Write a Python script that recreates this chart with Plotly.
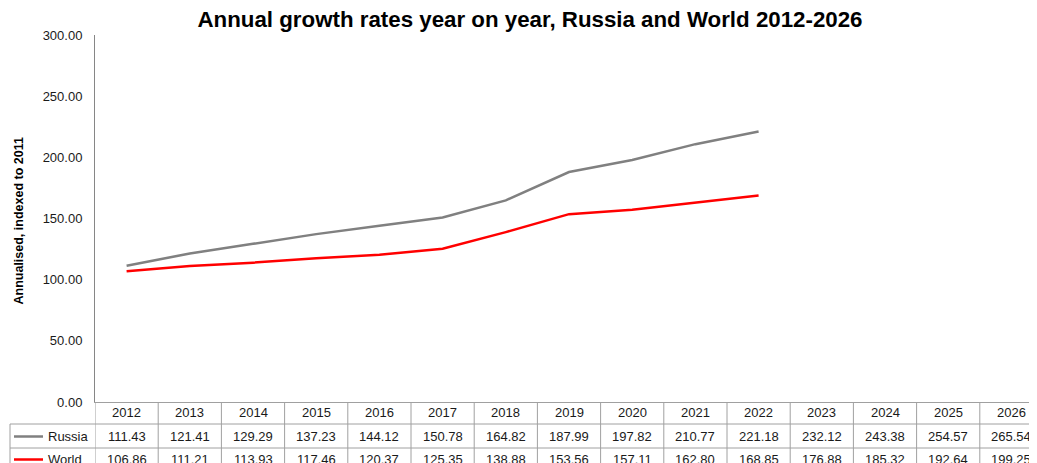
import plotly.graph_objects as go

years = [2012, 2013, 2014, 2015, 2016, 2017, 2018, 2019, 2020, 2021, 2022, 2023, 2024, 2025, 2026]
russia = [111.43, 121.41, 129.29, 137.23, 144.12, 150.78, 164.82, 187.99, 197.82, 210.77, 221.18, 232.12, 243.38, 254.57, 265.54]
world = [106.86, 111.21, 113.93, 117.46, 120.37, 125.35, 138.88, 153.56, 157.11, 162.80, 168.85, 176.88, 185.32, 192.64, 199.25]
last_plotted_year = 2022
series_names = ["Russia", "World"]
y_ticks = [0, 50, 100, 150, 200, 250, 300]
title_text = "Annual growth rates year on year, Russia and World 2012-2026"
y_title = "Annualised, indexed to 2011"

# page body has an 8px margin; work in reference pixels and shift
OFF = 8
W, H = 1037, 463
L_REF, T_REF, B_REF = 95, 35, 402
L, T, B = L_REF - OFF, T_REF - OFF, B_REF - OFF
R_EDGE = W
PW, PH = R_EDGE - L, B - T
COL_W = 63.2
FONT = "Arial, Liberation Sans, sans-serif"
GRID = "#a0a0a0"
COLORS = {"Russia": "#808080", "World": "#ff0000"}


def px(x_ref):
    return (x_ref - OFF - L) / PW


def py(y_ref):
    return (B - (y_ref - OFF)) / PH


n_plot = years.index(last_plotted_year) + 1
fig = go.Figure()
for name, vals in zip(series_names, [russia, world]):
    fig.add_trace(go.Scatter(x=years[:n_plot], y=vals[:n_plot], mode="lines", name=name,
                             line=dict(color=COLORS[name], width=2.5), showlegend=False))

x0 = years[0] - 0.5
x_range = [x0, x0 + PW / COL_W]

shapes = []
# table vertical borders
for k in range(len(years) + 1):
    shapes.append(dict(type="line", xref="x", yref="paper", x0=x0 + k, x1=x0 + k,
                       y0=0, y1=py(490), line=dict(color=GRID, width=1)))
# horizontal borders
for yy in [424, 448]:
    shapes.append(dict(type="line", xref="paper", yref="paper", x0=px(10), x1=1.0,
                       y0=py(yy), y1=py(yy), line=dict(color=GRID, width=1)))
shapes.append(dict(type="line", xref="paper", yref="paper", x0=px(10), x1=px(10),
                   y0=py(424), y1=py(490), line=dict(color=GRID, width=1)))
# legend keys
row_y = {"Russia": 436.5, "World": 459.5}
for name in series_names:
    shapes.append(dict(type="line", xref="paper", yref="paper", x0=px(14), x1=px(43),
                       y0=py(row_y[name]), y1=py(row_y[name]),
                       line=dict(color=COLORS[name], width=2.5)))

annotations = []
for yr in years:
    annotations.append(dict(x=yr, y=py(413), xref="x", yref="paper", text=str(yr),
                            showarrow=False, font=dict(family=FONT, size=13, color="#1a1a1a"),
                            xanchor="center", yanchor="middle"))
for name, vals in zip(series_names, [russia, world]):
    for yr, v in zip(years, vals):
        annotations.append(dict(x=yr, y=py(row_y[name]), xref="x", yref="paper", text=f"{v:.2f}",
                                showarrow=False, font=dict(family=FONT, size=13, color="#1a1a1a"),
                                xanchor="center", yanchor="middle"))
    annotations.append(dict(x=px(46), y=py(row_y[name]), xref="paper", yref="paper", text=name,
                            showarrow=False, font=dict(family=FONT, size=13, color="#1a1a1a"),
                            xanchor="left", yanchor="middle"))
annotations.append(dict(x=px(18), y=py((T_REF + B_REF) / 2 + 3), xref="paper", yref="paper",
                        text=f"<b>{y_title}</b>", textangle=-90, showarrow=False,
                        font=dict(family=FONT, size=12.5, color="#000000"),
                        xanchor="center", yanchor="middle"))

fig.update_layout(
    width=W, height=H,
    margin=dict(l=L, r=W - R_EDGE, t=T, b=H - B, pad=0),
    paper_bgcolor="white", plot_bgcolor="white",
    title=dict(text=f"<b>{title_text}</b>", x=(530 - OFF) / W, y=1 - (19 - OFF) / H,
               xanchor="center", yanchor="middle",
               font=dict(family=FONT, size=22.3, color="#000000")),
    xaxis=dict(range=x_range, showticklabels=False, showgrid=False, zeroline=False,
               showline=True, linecolor=GRID, linewidth=1, ticks=""),
    yaxis=dict(range=[0, 300], tickvals=y_ticks, tickformat=".2f", showgrid=False, zeroline=False,
               showline=True, linecolor="#868686", linewidth=1, ticks="", ticklabelstandoff=9,
               tickfont=dict(family=FONT, size=13, color="#1a1a1a")),
    shapes=shapes,
    annotations=annotations,
)

fig.write_html("out.html")
